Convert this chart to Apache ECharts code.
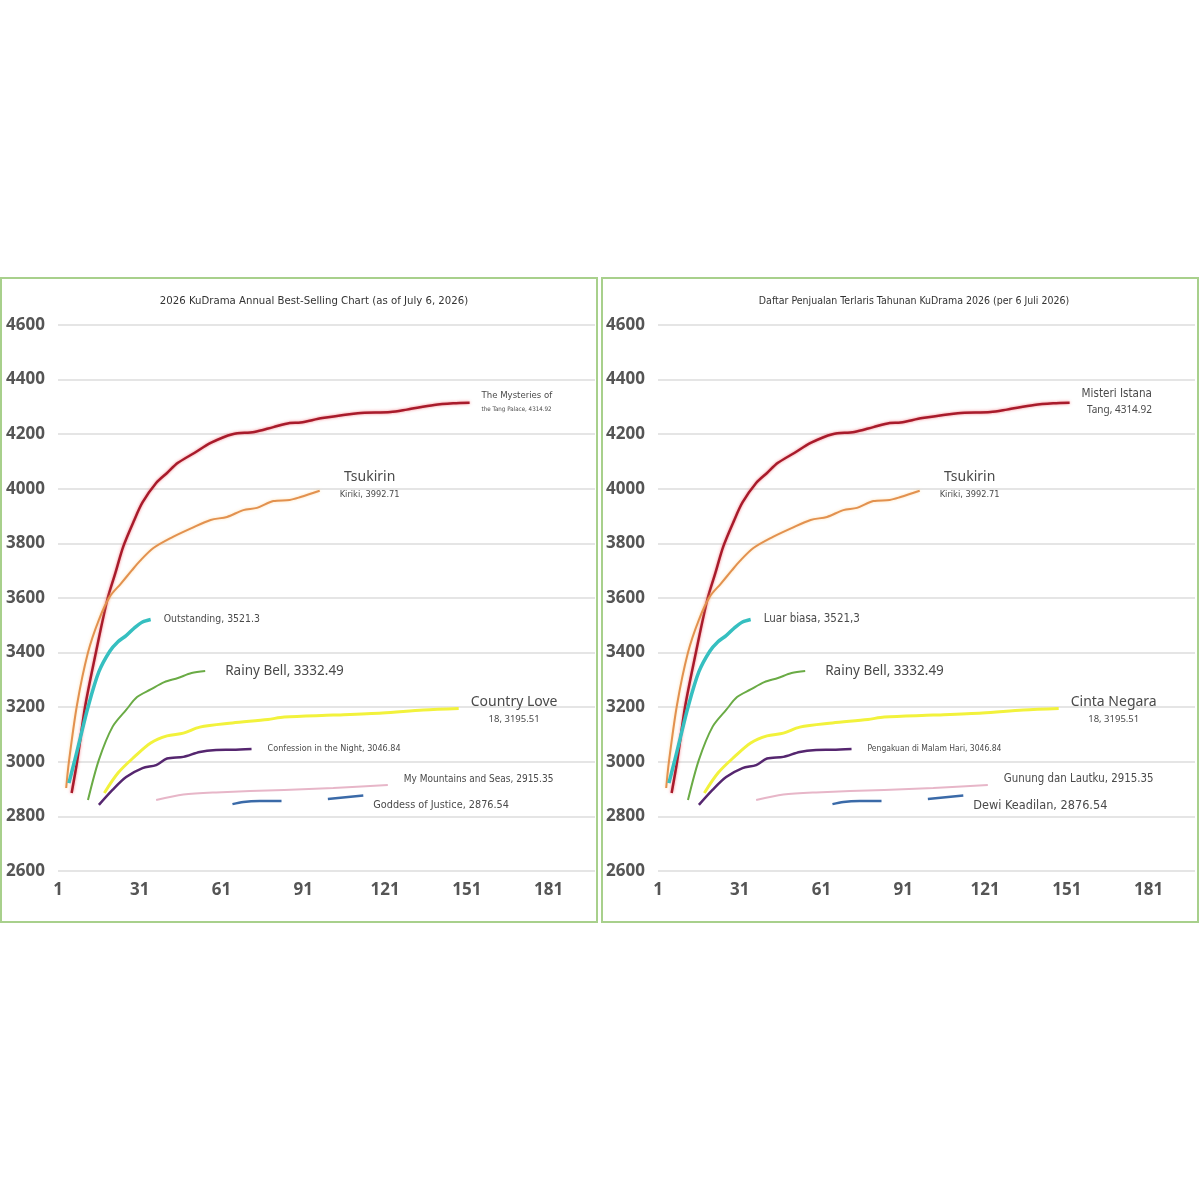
<!DOCTYPE html>
<html>
<head>
<meta charset="utf-8">
<script src="https://cdn.jsdelivr.net/npm/echarts@6/dist/echarts.min.js"></script>
<style>
  html, body { margin: 0; background: #fff; }
  #chart { width: 1200px; height: 1200px; }
</style>
</head>
<body>
<div id="chart"></div>
<script>
// day-of-year ticks
const xTicks = [1, 31, 61, 91, 121, 151, 181]
const yTicks = [2600, 2800, 3000, 3200, 3400, 3600, 3800, 4000, 4200, 4400, 4600]

// [day, cumulative value]
const tangPalace = [[6, 2886], [8, 3000], [11, 3205], [15, 3405], [19, 3590], [22, 3690], [25, 3790], [29, 3886], [32, 3950], [37, 4021], [41, 4058], [45, 4095], [51, 4131], [57, 4168], [65, 4200], [73, 4208], [80, 4226], [86, 4241], [90, 4243], [98, 4259], [111, 4277], [123, 4281], [129, 4290], [139, 4307], [146, 4313], [152, 4314.92]]
const tsukirin = [[4, 2904], [5, 3000], [8, 3210], [12, 3400], [16, 3520], [20, 3605], [24, 3652], [28, 3700], [31, 3735], [36, 3783], [43, 3823], [50, 3856], [57, 3886], [63, 3897], [69, 3922], [74, 3930], [80, 3955], [86, 3959], [90, 3970], [97, 3992.71]]
const outstanding = [[5, 2922], [7, 3000], [9, 3080], [12, 3200], [16, 3330], [20, 3405], [23, 3440], [26, 3462], [29, 3490], [32, 3512], [35, 3521.3]]
const rainyBell = [[12, 2860], [16, 3007], [21, 3128], [26, 3190], [30, 3237], [35, 3265], [40, 3292], [45, 3307], [50, 3325], [55, 3332.49]]
const countryLove = [[18, 2886], [23, 2959], [29, 3018], [35, 3069], [41, 3095], [47, 3105], [53, 3127], [65, 3142], [78, 3155], [84, 3164], [102, 3171], [120, 3179], [135, 3190], [148, 3195.51]]
const confession = [[16, 2842], [21, 2897], [26, 2944], [32, 2977], [37, 2988], [41, 3012], [47, 3018], [53, 3036], [59, 3043], [65, 3044], [72, 3046.84]]
const mountainsSeas = [[37, 2860], [47, 2880], [59, 2888], [84, 2897], [102, 2904], [122, 2915.35]]
const justiceA = [[65, 2845], [69, 2853], [75, 2856], [83, 2856]]
const justiceB = [[100, 2864], [113, 2876.54]]

const titles = [
  '2026 KuDrama Annual Best-Selling Chart (as of July 6, 2026)',
  'Daftar Penjualan Terlaris Tahunan KuDrama 2026 (per 6 Juli 2026)'
]
// label lines per series, english panel / indonesian panel
const labelsEn = [
  ['The Mysteries of', 'the Tang Palace, 4314.92'],
  ['Tsukirin', 'Kiriki, 3992.71'],
  ['Outstanding, 3521.3'],
  ['Rainy Bell, 3332.49'],
  ['Country Love', '18, 3195.51'],
  ['Confession in the Night, 3046.84'],
  ['My Mountains and Seas, 2915.35'],
  ['Goddess of Justice, 2876.54']
]
const labelsId = [
  ['Misteri Istana', 'Tang, 4314.92'],
  ['Tsukirin', 'Kiriki, 3992.71'],
  ['Luar biasa, 3521,3'],
  ['Rainy Bell, 3332.49'],
  ['Cinta Negara', '18, 3195.51'],
  ['Pengakuan di Malam Hari, 3046.84'],
  ['Gunung dan Lautku, 2915.35'],
  ['Dewi Keadilan, 2876.54']
]

const NARROW = "'Liberation Sans Narrow', 'DejaVu Sans Condensed', sans-serif"
const WIDE = "'Noto Sans', 'DejaVu Sans', sans-serif"

const lines = [
  { data: tangPalace, color: '#a81b2b', width: 2.5, glow: 'rgba(240,80,90,0.7)' },
  { data: tsukirin, color: '#e2914f', width: 2, glow: 'rgba(255,200,120,0.6)' },
  { data: outstanding, color: '#36bfc0', width: 3.5 },
  { data: rainyBell, color: '#6aab45', width: 2 },
  { data: countryLove, color: '#f2f23c', width: 3 },
  { data: confession, color: '#55266f', width: 2.5 },
  { data: mountainsSeas, color: '#e7b6c8', width: 2 },
  { data: justiceB, color: '#3a6aa8', width: 2.5 }
]

// label style per series: offset from end point, font per line, block alignment
const labelStyle = (i, panel) => {
  const s = [
    { off: [12, -1], f: [[NARROW, 9.5], [NARROW, 6.2]], align: 'left' },
    { off: [20, -6], f: [[WIDE, 14], [NARROW, 9.2]], align: 'center' },
    { off: [13, 0], f: [[NARROW, 10.4]] },
    { off: [20, 0], f: [[WIDE, 13.5]] },
    { off: [12, 1], f: [[WIDE, 14], [WIDE, 9.5]], align: 'center' },
    { off: [16, 0], f: [[NARROW, 9]] },
    { off: [16, -6], f: [[NARROW, 10]] },
    { off: [10, 10], f: [[NARROW, 10.8]] }
  ][i]
  if (panel === 1) {
    if (i === 0) { s.f = [[NARROW, 11.6], [WIDE, 10]]; s.align = 'right' }
    if (i === 2) s.f = [[NARROW, 11.5]]
    if (i === 5) s.f = [[NARROW, 8.5]]
    if (i === 6) s.f = [[NARROW, 11.4]]
    if (i === 7) s.f = [[NARROW, 12.6]]
  }
  return s
}

const chart = echarts.init(document.getElementById('chart'))

const grids = [
  { left: 58, right: 605, top: 325, bottom: 329 },
  { left: 658, right: 5, top: 325, bottom: 329 }
]

const xAxes = grids.map((g, k) => ({
  type: 'value',
  gridIndex: k,
  min: xTicks[0],
  max: 198,
  interval: 30,
  splitLine: { show: false },
  axisLine: { show: false },
  axisTick: { show: false },
  axisLabel: {
    showMaxLabel: false,
    margin: 11,
    fontSize: 17,
    fontWeight: 'bold',
    color: '#555',
    fontFamily: "'Open Sans', sans-serif",
    formatter: v => (xTicks.includes(v) ? String(v) : '')
  }
}))

const yAxes = grids.map((g, k) => ({
  type: 'value',
  gridIndex: k,
  min: yTicks[0],
  max: yTicks[yTicks.length - 1],
  interval: 200,
  axisLine: { show: false },
  axisTick: { show: false },
  splitLine: { lineStyle: { color: '#dddddd', width: 1.5 } },
  axisLabel: {
    margin: 13,
    fontSize: 17,
    fontWeight: 'bold',
    color: '#555',
    fontFamily: "'Open Sans', sans-serif",
    formatter: v => String(v)
  }
}))

const series = []
;[labelsEn, labelsId].forEach((labels, k) => {
  lines.forEach((ln, i) => {
    const st = labelStyle(i, k)
    const rich = {}
    st.f.forEach((f, j) => {
      rich['l' + j] = { fontFamily: f[0], fontSize: f[1], color: '#4a4a4a', align: st.align || 'left', lineHeight: f[1] + 6 }
    })
    series.push({
      type: 'line',
      xAxisIndex: k,
      yAxisIndex: k,
      data: ln.data,
      smooth: 0.3,
      symbol: 'none',
      silent: true,
      lineStyle: {
        color: ln.color,
        width: ln.width,
        shadowBlur: ln.glow ? 3 : 0,
        shadowColor: ln.glow || 'transparent'
      },
      endLabel: {
        show: true,
        distance: 0,
        offset: st.off,
        align: 'left',
        verticalAlign: 'middle',
        formatter: () => labels[i].map((t, j) => '{l' + j + '|' + t + '}').join('\n'),
        rich: rich
      }
    })
  })
  // first piece of the Goddess of Justice line (gap in between)
  series.push({
    type: 'line',
    xAxisIndex: k,
    yAxisIndex: k,
    data: justiceA,
    smooth: 0.3,
    symbol: 'none',
    silent: true,
    lineStyle: { color: '#3a6aa8', width: 2.5 }
  })
})

chart.setOption({
  animation: false,
  grid: grids,
  xAxis: xAxes,
  yAxis: yAxes,
  series: series,
  graphic: [
    { type: 'rect', shape: { x: 1, y: 278, width: 596, height: 644 }, style: { fill: 'none', stroke: '#a8d08c', lineWidth: 2 } },
    { type: 'rect', shape: { x: 602, y: 278, width: 596, height: 644 }, style: { fill: 'none', stroke: '#a8d08c', lineWidth: 2 } },
    { type: 'text', x: 314, y: 301, style: { text: titles[0], fontFamily: NARROW, fontSize: 11.3, fill: '#333', align: 'center', verticalAlign: 'middle' } },
    { type: 'text', x: 914, y: 301, style: { text: titles[1], fontFamily: NARROW, fontSize: 10.5, fill: '#333', align: 'center', verticalAlign: 'middle' } }
  ]
})
</script>
</body>
</html>
